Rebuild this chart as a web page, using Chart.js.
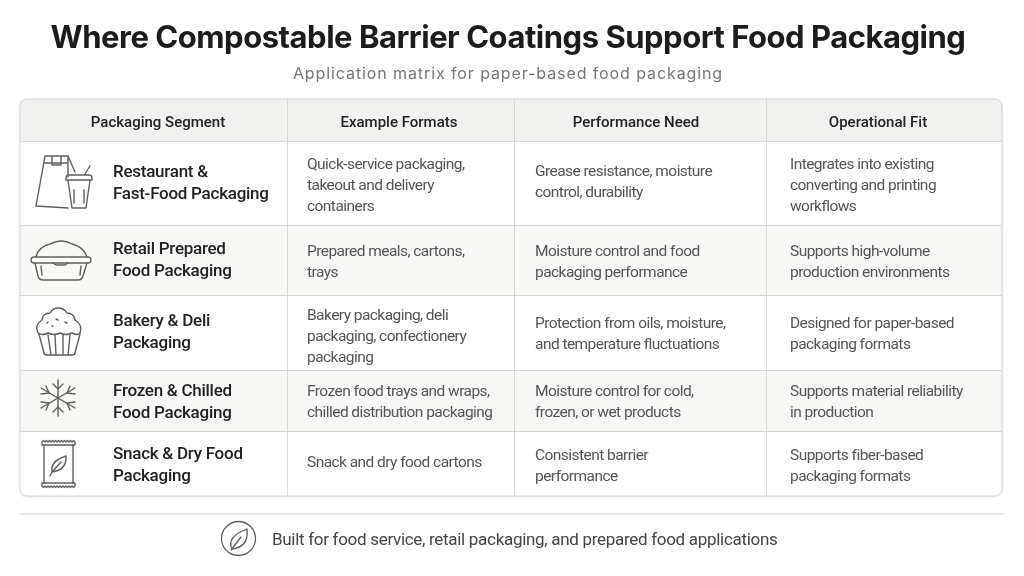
<!DOCTYPE html>
<html>
<head>
<meta charset="utf-8">
<style>
  html, body { margin: 0; background: #fff; }
  canvas { display: block; }
</style>
<script src="https://cdn.jsdelivr.net/npm/chart.js@4/dist/chart.umd.min.js"></script>
</head>
<body>
<canvas id="matrix" width="1024" height="576"></canvas>
<script>
const titleText = 'Where Compostable Barrier Coatings Support Food Packaging';
const subtitleText = 'Application matrix for paper-based food packaging';
const footerText = 'Built for food service, retail packaging, and prepared food applications';

const headers = ['Packaging Segment', 'Example Formats', 'Performance Need', 'Operational Fit'];

const segments = [
    ['Restaurant &', 'Fast-Food Packaging'],
    ['Retail Prepared', 'Food Packaging'],
    ['Bakery & Deli', 'Packaging'],
    ['Frozen & Chilled', 'Food Packaging'],
    ['Snack & Dry Food', 'Packaging']
];
const exampleFormats = [
    ['Quick-service packaging,', 'takeout and delivery', 'containers'],
    ['Prepared meals, cartons,', 'trays'],
    ['Bakery packaging, deli', 'packaging, confectionery', 'packaging'],
    ['Frozen food trays and wraps,', 'chilled distribution packaging'],
    ['Snack and dry food cartons']
];
const performanceNeeds = [
    ['Grease resistance, moisture', 'control, durability'],
    ['Moisture control and food', 'packaging performance'],
    ['Protection from oils, moisture,', 'and temperature fluctuations'],
    ['Moisture control for cold,', 'frozen, or wet products'],
    ['Consistent barrier', 'performance']
];
const operationalFits = [
    ['Integrates into existing', 'converting and printing', 'workflows'],
    ['Supports high-volume', 'production environments'],
    ['Designed for paper-based', 'packaging formats'],
    ['Supports material reliability', 'in production'],
    ['Supports fiber-based', 'packaging formats']
];

// layout of the table, in page pixels
const tableLeft = 20, tableRight = 1002, tableTop = 99, tableBottom = 496;
const columnEdges = [287.5, 514, 766];
const rowEdges = [141, 225.5, 295, 370, 431];
const headerCenters = [158, 399, 636, 878];
const columnTextX = [113, 307, 535, 790];
const cellCenters = [
    [182, 259, 331, 401, 464],
    [184.5, 261, 335.5, 401, 461],
    [181, 261, 333, 401, 465],
    [184.5, 261, 333, 401, 465]
];
const rowFills = ['#ffffff', '#f8f8f7', '#ffffff', '#f7f7f6', '#ffffff'];
const textDrop = 2; // middle baseline sits a bit high for these fonts

const columns = [segments, exampleFormats, performanceNeeds, operationalFits];

const datasets = columns.map((rows, c) => ({
    label: headers[c],
    pointRadius: 0,
    textLines: rows,
    data: rows.map((lines, r) => ({ x: columnTextX[c], y: cellCenters[c][r] }))
}));

const icons = [
    // bag and cup
    ['M45 156L68 156L75 172M45 156L36 206L68 208M45 163L68 163M52 156L52 165L61 165L61 156M68 156L68 177',
     'M66 178Q66 175 69 175L89 175Q92 175 92 178L92 180L66 180ZM68 180L72 208L86 208L90 180M85 174L90 166M74 190L74 203M84 190L84 203'],
    // meal box
    ['M34 257L88 257Q91 257 91 260Q91 263 88 263L34 263Q31 263 31 260Q31 257 34 257Z',
     'M36 257Q38 247 50 244Q56 241 61 241Q67 241 72 244Q84 247 87 257M35 263L38 276Q39 280 43 280L78 280Q82 280 83 276L87 263M53 263L56 265L65 265L68 263M41 266L42 275M81 266L80 275'],
    // muffin
    ['M38 333Q34 325 42 320Q43 313 50 313Q53 308 58 308Q64 308 67 313Q74 313 75 320Q83 325 80 333Q78 336 72 333Q66 336 60 333Q54 336 48 333Q42 336 38 333Z',
     'M39 334L44 353Q44 355 47 355L72 355Q75 355 75 353L80 334M48 335L51 355M55 335L56 355M63 335L63 355M70 335L68 355',
     'M47 323L48 322M56 319L58 320M65 322L67 323M52 326L53 326'],
    // snowflake
    ['M58 380L58 416M41 388L75 408M41 408L75 388',
     'M53 384L58 389L63 384M53 412L58 407L63 412',
     'M41 394L49 393L46 386M75 402L67 403L70 410M41 402L49 403L46 410M75 394L67 393L70 386'],
    // snack bag
    ['M42 442' + 'l1.5 -1.5l1.5 1.5'.repeat(11) + 'L75 445L42 445Z',
     'M42 486' + 'l1.5 1.5l1.5 -1.5'.repeat(11) + 'L75 483L42 483Z',
     'M44 445L44 483M73 445L73 483',
     'M52 472Q50 461 66 456Q67 470 52 472ZM52 472L61 462M50 476L52 472']
];
const footerLeaf = ['M232 549Q226 537 247 529Q249 547 232 549ZM231 550L241 537'];

const tablePlugin = {
    id: 'tablePlugin',
    afterLayout(chart) {
        // Chart.js has no tracking option for titles, so set it around their draw
        chart.boxes.forEach(box => {
            if (box.options.text !== titleText && box.options.text !== subtitleText) return;
            if (box.spacedDraw) return;
            box.spacedDraw = true;
            const spacing = box.options.text === titleText ? '-0.48px' : '0.9px';
            const draw = box.draw;
            box.draw = function (...args) {
                const ctx = chart.ctx;
                ctx.save();
                ctx.letterSpacing = spacing;
                ctx.translate(-3, 0); // the reference heading sits left of page centre
                draw.apply(this, args);
                ctx.restore();
            };
        });
    },
    beforeDraw(chart) {
        const { ctx, scales: { x, y } } = chart;
        const left = x.getPixelForValue(tableLeft), right = x.getPixelForValue(tableRight);
        const top = y.getPixelForValue(tableTop), bottom = y.getPixelForValue(tableBottom);
        ctx.save();
        ctx.beginPath();
        ctx.roundRect(left, top, right - left, bottom - top, 7);
        ctx.shadowColor = 'rgba(0,0,0,0.12)';
        ctx.shadowBlur = 3;
        ctx.shadowOffsetY = 1;
        ctx.fillStyle = '#fff';
        ctx.fill();
        ctx.shadowColor = 'transparent';
        ctx.clip();
        ctx.fillStyle = '#f1f1ef';
        ctx.fillRect(left, top, right - left, y.getPixelForValue(rowEdges[0]) - top);
        rowFills.forEach((fill, r) => {
            const y0 = y.getPixelForValue(rowEdges[r]);
            const y1 = y.getPixelForValue(r + 1 < rowEdges.length ? rowEdges[r + 1] : tableBottom);
            ctx.fillStyle = fill;
            ctx.fillRect(left, y0, right - left, y1 - y0);
        });
        ctx.restore();
    },
    afterDatasetsDraw(chart) {
        const { ctx, scales: { x, y } } = chart;
        const left = x.getPixelForValue(tableLeft), right = x.getPixelForValue(tableRight);
        const top = y.getPixelForValue(tableTop), bottom = y.getPixelForValue(tableBottom);

        ctx.save();
        ctx.beginPath();
        ctx.roundRect(left, top, right - left, bottom - top, 7);
        ctx.strokeStyle = '#d4d4d2';
        ctx.lineWidth = 1;
        ctx.stroke();

        // header row
        ctx.textBaseline = 'middle';
        ctx.textAlign = 'center';
        ctx.fillStyle = '#222';
        ctx.font = '500 15px Roboto';
        const headerY = y.getPixelForValue((tableTop + rowEdges[0]) / 2) + textDrop + 1;
        headers.forEach((h, c) => ctx.fillText(h, x.getPixelForValue(headerCenters[c]), headerY));

        // cell text
        ctx.textAlign = 'left';
        chart.data.datasets.forEach((ds, c) => {
            const lineGap = c === 0 ? 22 : 21;
            ctx.font = c === 0 ? '500 17px Roboto' : '400 15.5px Roboto';
            ctx.letterSpacing = c === 0 ? '-0.26px' : '-0.55px';
            ctx.fillStyle = c === 0 ? '#222' : '#555';
            ds.data.forEach((pt, r) => {
                const lines = ds.textLines[r];
                const first = y.getPixelForValue(pt.y) + textDrop - (lines.length - 1) * lineGap / 2;
                lines.forEach((line, i) => ctx.fillText(line, x.getPixelForValue(pt.x), first + i * lineGap));
            });
        });
        ctx.letterSpacing = '0px';

        // row icons
        ctx.strokeStyle = '#5f5f5c';
        ctx.lineWidth = 1.4;
        ctx.lineJoin = 'round';
        ctx.lineCap = 'round';
        icons.forEach(parts => parts.forEach(p => ctx.stroke(new Path2D(p))));

        // footer
        ctx.strokeStyle = '#dedede';
        ctx.lineWidth = 1.5;
        ctx.beginPath();
        ctx.moveTo(20, 514);
        ctx.lineTo(1003, 514);
        ctx.stroke();

        ctx.strokeStyle = '#5f5f5c';
        ctx.lineWidth = 1.3;
        ctx.beginPath();
        ctx.arc(238.5, 538.5, 17, 0, Math.PI * 2);
        ctx.stroke();
        footerLeaf.forEach(p => ctx.stroke(new Path2D(p)));

        ctx.fillStyle = '#444';
        ctx.font = '400 17px Roboto';
        ctx.letterSpacing = '-0.3px';
        ctx.fillText(footerText, 272, 539 + textDrop);
        ctx.restore();
    }
};

new Chart(document.getElementById('matrix'), {
    type: 'scatter',
    data: { datasets },
    plugins: [tablePlugin],
    options: {
        responsive: false,
        animation: false,
        devicePixelRatio: 1,
        layout: { padding: { left: tableLeft, right: 1024 - tableRight, bottom: 576 - tableBottom } },
        plugins: {
            legend: { display: false },
            tooltip: { enabled: false },
            title: {
                display: true,
                text: titleText,
                color: '#1c1c1c',
                font: { family: 'Inter', size: 31, weight: '700', lineHeight: 1.2 },
                padding: { top: 20, bottom: 7 }
            },
            subtitle: {
                display: true,
                text: subtitleText,
                color: '#777',
                font: { family: 'Inter', size: 16, weight: '400', lineHeight: 1.2 },
                padding: { top: 0, bottom: 15.6 }
            }
        },
        scales: {
            x: {
                type: 'linear',
                min: tableLeft,
                max: tableRight,
                afterBuildTicks: axis => { axis.ticks = columnEdges.map(value => ({ value })); },
                ticks: { display: false },
                border: { display: false },
                grid: { color: '#d8d8d6', drawTicks: false }
            },
            y: {
                type: 'linear',
                reverse: true,
                min: tableTop,
                max: tableBottom,
                afterBuildTicks: axis => { axis.ticks = rowEdges.map(value => ({ value })); },
                ticks: { display: false },
                border: { display: false },
                grid: { color: '#d8d8d6', drawTicks: false }
            }
        }
    }
});
</script>
</body>
</html>
